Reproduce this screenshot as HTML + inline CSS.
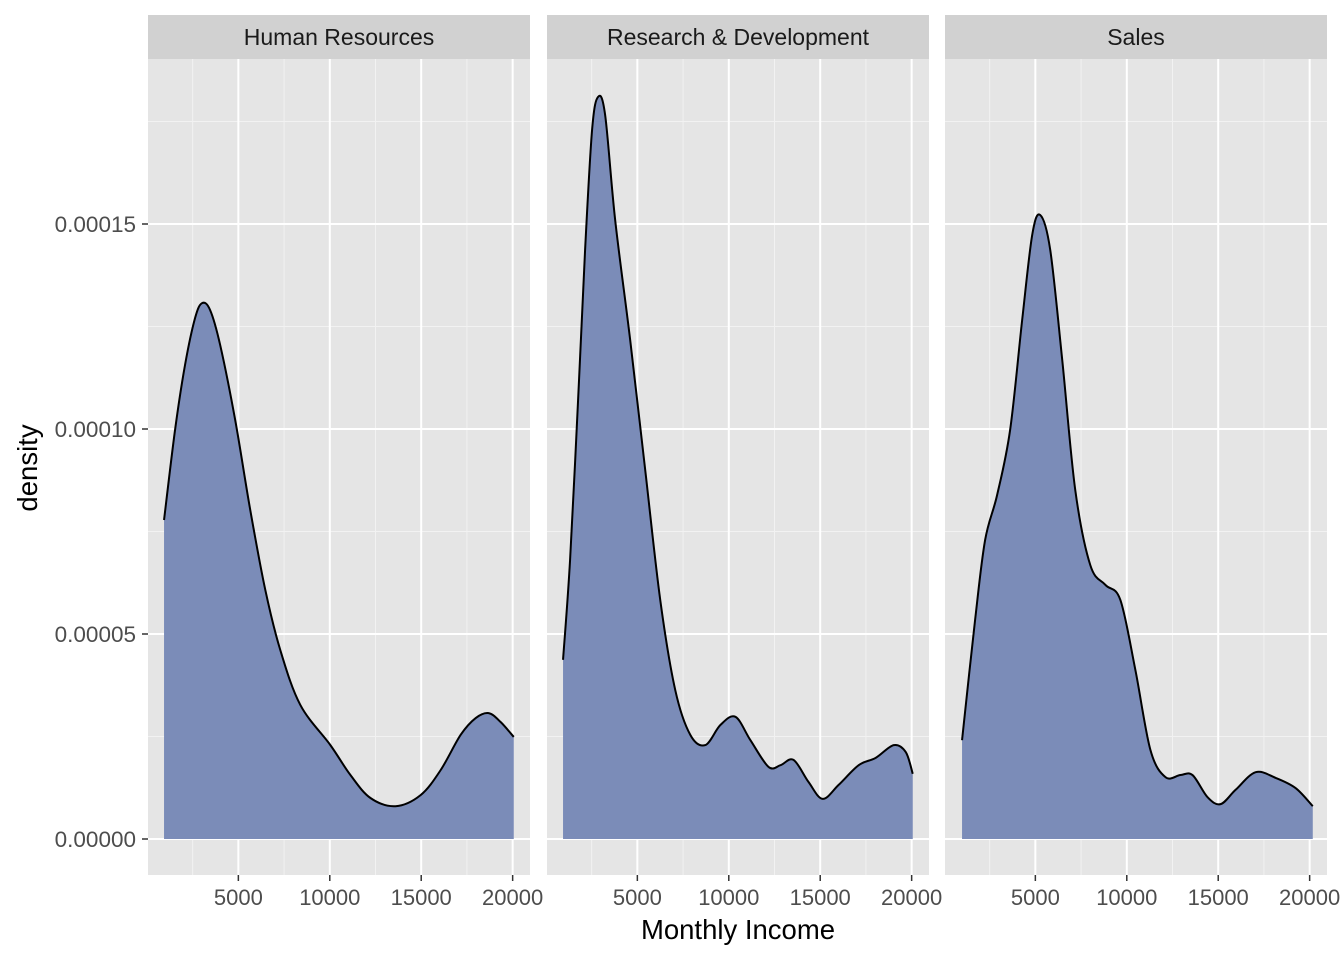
<!DOCTYPE html>
<html><head><meta charset="utf-8"><style>
body{margin:0;background:#fff;}
svg{display:block;font-family:"Liberation Sans",Arial,sans-serif;}
</style></head><body>
<svg id="chart" width="1344" height="960" viewBox="0 0 1344 960"></svg>
<script>
const panelNames=["Human Resources","Research & Development","Sales"];
const incomeHR=[936,1539,2087,2635,3018,3457,4005,4827,5649,6471,7293,8389,10033,11129,12225,13595,14965,16061,17157,17979,18691,19349,20061];
const densHR=[7.78e-5,9.98e-5,1.157e-4,1.271e-4,1.307e-4,1.29e-4,1.205e-4,1.022e-4,8.03e-5,6.08e-5,4.61e-5,3.27e-5,2.29e-5,1.56e-5,1.0e-5,8.0e-6,1.07e-5,1.68e-5,2.54e-5,2.95e-5,3.07e-5,2.85e-5,2.49e-5];
const incomeRD=[936,1320,1758,2142,2525,2854,3238,3786,4608,5430,6252,7074,7896,8718,9540,10362,11184,12171,12828,13540,14362,15130,16007,17103,18034,19021,19678,20061];
const densRD=[4.37e-5,6.8e-5,1.07e-4,1.437e-4,1.73e-4,1.81e-4,1.766e-4,1.51e-4,1.217e-4,9.0e-5,5.83e-5,3.63e-5,2.54e-5,2.29e-5,2.78e-5,2.98e-5,2.41e-5,1.76e-5,1.8e-5,1.93e-5,1.39e-5,9.8e-6,1.32e-5,1.8e-5,1.98e-5,2.29e-5,2.12e-5,1.59e-5];
const incomeS=[991,1704,2252,2909,3621,4279,4827,5265,5813,6471,7183,8005,8827,9649,10471,11293,12115,12937,13595,14417,15130,15952,17048,18144,19240,20171];
const densS=[2.41e-5,5.34e-5,7.29e-5,8.39e-5,9.98e-5,1.266e-4,1.473e-4,1.522e-4,1.437e-4,1.168e-4,8.51e-5,6.68e-5,6.2e-5,5.83e-5,4.12e-5,2.17e-5,1.51e-5,1.56e-5,1.56e-5,1.02e-5,8.5e-6,1.2e-5,1.63e-5,1.49e-5,1.24e-5,8e-6];
const xTicks=[5000,10000,15000,20000];
const xMinor=[2500,7500,12500,17500];
const yTicks=[0,0.00005,0.0001,0.00015];
const yTickLabels=["0.00000","0.00005","0.00010","0.00015"];
const yMinor=[0.000025,0.000075,0.000125,0.000175];

const NS="http://www.w3.org/2000/svg";
const svg=document.getElementById('chart');
function el(t,a,p){const e=document.createElementNS(NS,t);for(const k in a)e.setAttribute(k,a[k]);(p||svg).appendChild(e);return e;}
const panelX=[148,547,945], panelW=382, panelTop=59, panelBottom=875;
const xmin=59, xmax=20949;
const y=v=>839-v/0.00005*205;
const series=[[incomeHR,densHR],[incomeRD,densRD],[incomeS,densS]];
function smooth(pts){let d="M"+pts[0][0]+","+pts[0][1];
 for(let i=0;i<pts.length-1;i++){const p0=pts[Math.max(0,i-1)],p1=pts[i],p2=pts[i+1],p3=pts[Math.min(pts.length-1,i+2)];
 d+=" C"+(p1[0]+(p2[0]-p0[0])/6)+","+(p1[1]+(p2[1]-p0[1])/6)+" "+(p2[0]-(p3[0]-p1[0])/6)+","+(p2[1]-(p3[1]-p1[1])/6)+" "+p2[0]+","+p2[1];}
 return d;}
panelNames.forEach((name,pi)=>{
 const px=panelX[pi];
 const x=v=>px+(v-xmin)/(xmax-xmin)*panelW;
 const g=el('g',{});
 
 
 el('rect',{x:px,y:panelTop,width:panelW,height:panelBottom-panelTop,fill:'#e5e5e5'},g);
 yMinor.forEach(v=>el('line',{x1:px,x2:px+panelW,y1:y(v),y2:y(v),stroke:'#f2f2f2','stroke-width':1},g));
 xMinor.forEach(v=>el('line',{x1:x(v),x2:x(v),y1:panelTop,y2:panelBottom,stroke:'#f2f2f2','stroke-width':1},g));
 yTicks.forEach(v=>el('line',{x1:px,x2:px+panelW,y1:y(v),y2:y(v),stroke:'#fff','stroke-width':2},g));
 xTicks.forEach(v=>el('line',{x1:x(v),x2:x(v),y1:panelTop,y2:panelBottom,stroke:'#fff','stroke-width':2},g));
 const [inc,den]=series[pi];
 const pts=inc.map((v,i)=>[x(v),y(den[i])]);
 const line=smooth(pts);
 const area=el('path',{d:line+" L"+pts[pts.length-1][0]+","+y(0)+" L"+pts[0][0]+","+y(0)+"Z",fill:'#7b8cb8'},g);
 
 
 const ln=el('path',{d:line,fill:'none',stroke:'#000','stroke-width':2},g);
 
 
 const strip=el('rect',{x:px,y:15,width:panelW,height:44,fill:'#d1d1d1'},g);
 
 
 const st=el('text',{x:px+panelW/2,y:45,'text-anchor':'middle','font-size':'23px',fill:'#1a1a1a'},g);
 st.textContent=name;
 
 
 xTicks.forEach(v=>{
  el('line',{x1:x(v),x2:x(v),y1:panelBottom,y2:panelBottom+6,stroke:'#333','stroke-width':1.5},g);
  const t=el('text',{x:x(v),y:905,'text-anchor':'middle','font-size':'22px',fill:'#4d4d4d'},g);
  t.textContent=v;
  
  
 });
});
yTicks.forEach((v,i)=>{
 el('line',{x1:142,x2:148,y1:y(v),y2:y(v),stroke:'#333','stroke-width':1.5});
 const t=el('text',{x:136,y:y(v)+8,'text-anchor':'end','font-size':'22.5px',fill:'#4d4d4d'});
 t.textContent=yTickLabels[i];
 
 
});
const xt=el('text',{x:738,y:939,'text-anchor':'middle','font-size':'27.5px',fill:'#000'});
xt.textContent="Monthly Income";


const yt=el('text',{x:37,y:468,'text-anchor':'middle','font-size':'27.5px',fill:'#000',transform:'rotate(-90 37 468)'});
yt.textContent="density";


</script>
</body></html>
